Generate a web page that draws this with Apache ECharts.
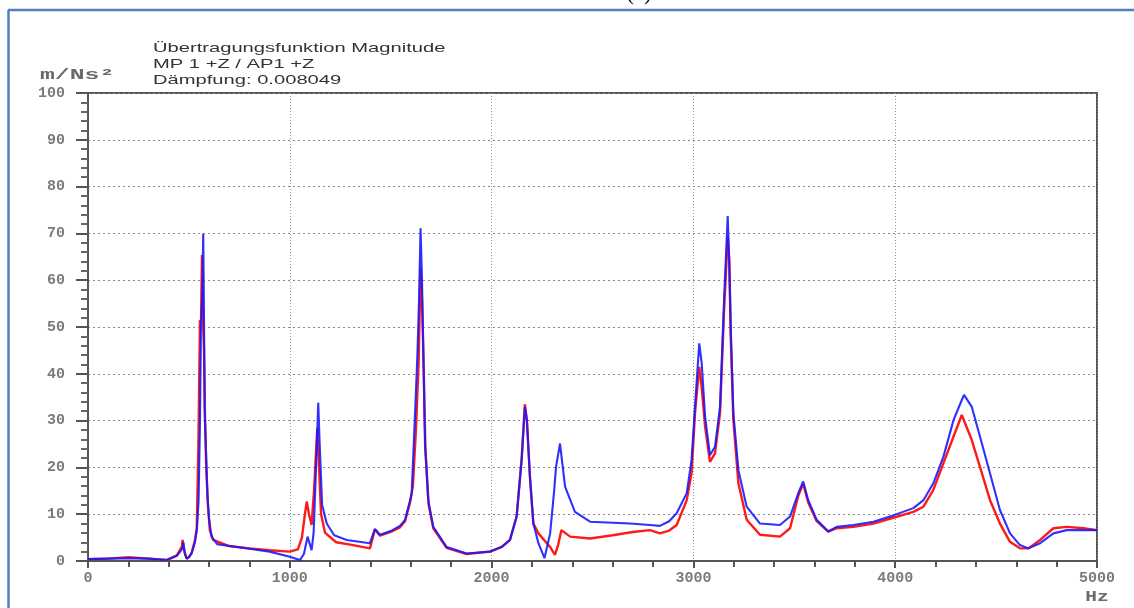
<!DOCTYPE html>
<html>
<head>
<meta charset="utf-8">
<script src="https://cdn.jsdelivr.net/npm/echarts@6/dist/echarts.min.js"></script>
<style>
html,body{margin:0;padding:0;background:#fff;}
#chart{width:1134px;height:608px;}
</style>
</head>
<body>
<div id="chart"></div>
<script>
// Title lines and axis units
const titleLines = ['Übertragungsfunktion Magnitude', 'MP 1 +Z / AP1 +Z', 'Dämpfung: 0.008049'];
const yUnit = 'm/Ns²';
const xUnit = 'Hz';
const panelLabel = '(a)';

// Axis ranges
const xRange = [0, 5000];
const yRange = [0, 100];

// Red series [Hz, m/Ns²]
const redSeries = [
  [0,0.4],[100,0.5],[200,0.8],[300,0.5],[390,0.2],[440,1.2],[465,3],[469,4.5],[478,2],[489,0.5],[500,0.8],[514,1.8],[530,4.5],[539,7],[547,24.4],[555,51.5],[560,51],[565,65.4],[570,51],[575,45],[580,30],[586,20],[594,12],[604,6.5],[620,4.5],[700,3.2],[800,2.7],[900,2.3],[1000,2.0],[1040,2.5],[1060,5],[1075,10],[1084,12.7],[1095,10],[1108,7.7],[1120,15],[1136,28.4],[1145,20],[1155,10],[1175,6],[1230,4],[1300,3.5],[1397,2.7],[1422,6.8],[1447,5.4],[1500,6.2],[1546,7.2],[1571,8.5],[1596,12.5],[1610,16],[1625,28],[1638,42],[1648,62.5],[1655,56],[1663,42],[1672,24],[1688,12],[1711,7],[1777,2.8],[1876,1.5],[1992,2],[2050,3],[2091,4.5],[2124,9.5],[2149,22],[2165,33.5],[2175,30],[2190,18],[2207,8],[2232,5.9],[2290,3],[2314,1.3],[2330,3.5],[2346,6.6],[2389,5.2],[2488,4.8],[2600,5.5],[2700,6.2],[2785,6.6],[2834,5.9],[2880,6.5],[2917,7.7],[2967,13],[2991,18.8],[3008,31.6],[3029,41.5],[3041,37.2],[3058,28.7],[3082,21.2],[3107,23],[3132,31.6],[3152,53.6],[3170,69.3],[3178,64.3],[3185,48],[3198,30.1],[3223,16.6],[3264,8.8],[3330,5.6],[3429,5.2],[3479,7],[3520,14],[3544,16.5],[3569,12.5],[3611,8.5],[3668,6.3],[3710,7],[3793,7.3],[3892,8],[3994,9.3],[4090,10.5],[4140,11.6],[4189,15.2],[4239,20.9],[4289,26.6],[4330,31.2],[4379,25.9],[4420,20.1],[4470,13],[4519,8],[4569,4.1],[4618,2.7],[4660,2.7],[4718,4.5],[4784,7],[4850,7.3],[4933,7],[5000,6.6]
];

// Blue series [Hz, m/Ns²]
const blueSeries = [
  [0,0.4],[100,0.5],[200,0.6],[300,0.5],[390,0.2],[440,1.1],[465,2.5],[472,4.0],[480,1.5],[489,0.5],[500,0.8],[514,1.7],[530,4],[540,7],[548,13],[555,30],[560,51],[566,56],[571,70],[575,51],[578,33],[584,24.4],[592,14],[600,9],[612,5.2],[640,3.6],[700,3.2],[800,2.6],[900,2.0],[1000,0.9],[1050,0.2],[1070,1.5],[1088,5.2],[1100,3.5],[1108,2.3],[1118,6],[1130,20],[1141,33.8],[1148,25],[1160,12],[1183,8],[1220,5.5],[1282,4.5],[1397,3.8],[1422,6.8],[1447,5.6],[1500,6.4],[1546,7.5],[1571,8.8],[1596,13],[1604,14.5],[1620,30.8],[1632,43.6],[1640,55],[1648,71.1],[1655,60],[1661,46.6],[1670,25],[1686,13],[1711,7.3],[1777,3],[1876,1.6],[1992,2],[2050,3],[2091,4.5],[2124,9.5],[2149,21.6],[2165,33],[2175,30],[2190,18],[2207,8],[2232,3.8],[2262,0.6],[2290,5.9],[2310,15],[2319,20],[2339,25.1],[2350,21],[2364,15.9],[2413,10.5],[2488,8.4],[2686,8],[2785,7.7],[2834,7.5],[2880,8.5],[2917,10.2],[2967,14.5],[2991,21.6],[3008,33],[3029,46.5],[3041,42.3],[3058,30.8],[3082,22.6],[3107,24.4],[3132,33],[3152,55.8],[3170,73.7],[3178,62.9],[3185,50],[3198,31.6],[3223,19.4],[3264,11.6],[3330,8],[3429,7.7],[3479,9.5],[3520,14.5],[3544,17],[3569,13],[3611,8.8],[3668,6.3],[3710,7.3],[3793,7.7],[3892,8.4],[3994,9.8],[4090,11.3],[4140,13],[4189,16.6],[4239,22.3],[4289,30.1],[4330,34.4],[4341,35.5],[4379,33],[4420,26.6],[4470,18.7],[4519,10.9],[4569,5.9],[4618,3.4],[4660,2.7],[4718,3.8],[4784,5.9],[4850,6.6],[4933,6.6],[5000,6.6]
];

const chart = echarts.init(document.getElementById('chart'), null, {renderer: 'canvas'});
const labelStyle = {fontFamily: 'Liberation Mono', fontSize: 15, fontWeight: 'bold', color: '#7a7a7a'};

chart.setOption({
  animation: false,
  backgroundColor: '#ffffff',
  grid: {left: 88, right: 37, top: 93, bottom: 47, show: true, borderColor: '#555', borderWidth: 2, backgroundColor: 'transparent'},
  xAxis: {
    type: 'value', min: xRange[0], max: xRange[1], interval: 1000,
    axisLine: {show: true, onZero: false, lineStyle: {color: '#555', width: 2}},
    axisTick: {show: true, length: 7, lineStyle: {color: '#555', width: 2}},
    minorTick: {show: true, splitNumber: 5, length: 6, lineStyle: {color: '#555', width: 2}},
    splitLine: {show: true, lineStyle: {color: '#999', width: 1, type: [1, 2]}},
    axisLabel: Object.assign({margin: 10, formatter: v => String(v)}, labelStyle)
  },
  yAxis: {
    type: 'value', min: yRange[0], max: yRange[1], interval: 10,
    axisLine: {show: true, lineStyle: {color: '#555', width: 2}},
    axisTick: {show: true, length: 12, lineStyle: {color: '#555', width: 2}},
    minorTick: {show: true, splitNumber: 5, length: 7, lineStyle: {color: '#666', width: 2}},
    splitLine: {show: true, lineStyle: {color: '#888', width: 1, type: [2, 3]}},
    axisLabel: Object.assign({margin: 23, formatter: v => String(v)}, labelStyle)
  },
  graphic: [
    {type: 'line', shape: {x1: 8, y1: 10, x2: 1134, y2: 10}, style: {stroke: '#4f81bd', lineWidth: 2.5}, z: 10},
    {type: 'line', shape: {x1: 8.5, y1: 10, x2: 8.5, y2: 608}, style: {stroke: '#4f81bd', lineWidth: 2.5}, z: 10},
    {type: 'text', x: 639, y: 5, style: {text: panelLabel, font: '22px "Liberation Serif"', fill: '#000', textAlign: 'center', textVerticalAlign: 'bottom'}},
    {type: 'text', x: 153, y: 48, scaleX: 1.55, style: {text: titleLines[0], font: '13px "Liberation Sans"', fill: '#333', textVerticalAlign: 'middle'}},
    {type: 'text', x: 153, y: 64, scaleX: 1.55, style: {text: titleLines[1], font: '13px "Liberation Sans"', fill: '#333', textVerticalAlign: 'middle'}},
    {type: 'text', x: 153, y: 80, scaleX: 1.55, style: {text: titleLines[2], font: '13px "Liberation Sans"', fill: '#333', textVerticalAlign: 'middle'}},
    {type: 'text', x: 40, y: 75, scaleX: 1.65, style: {text: yUnit, font: 'bold 15px "Liberation Mono"', fill: '#6a6a6a', textVerticalAlign: 'middle'}},
    {type: 'text', x: 1097, y: 597, scaleX: 1.3, style: {text: xUnit, font: 'bold 15px "Liberation Mono"', fill: '#6a6a6a', textAlign: 'center', textVerticalAlign: 'middle'}}
  ],
  series: [
    {type: 'line', name: 'red', data: redSeries, showSymbol: false, lineStyle: {color: '#ff1a1a', width: 2.4}, z: 3},
    {type: 'line', name: 'blue', data: blueSeries, showSymbol: false, lineStyle: {color: '#1a1aff', width: 2.1, opacity: 0.9}, z: 4}
  ]
});
</script>
</body>
</html>
